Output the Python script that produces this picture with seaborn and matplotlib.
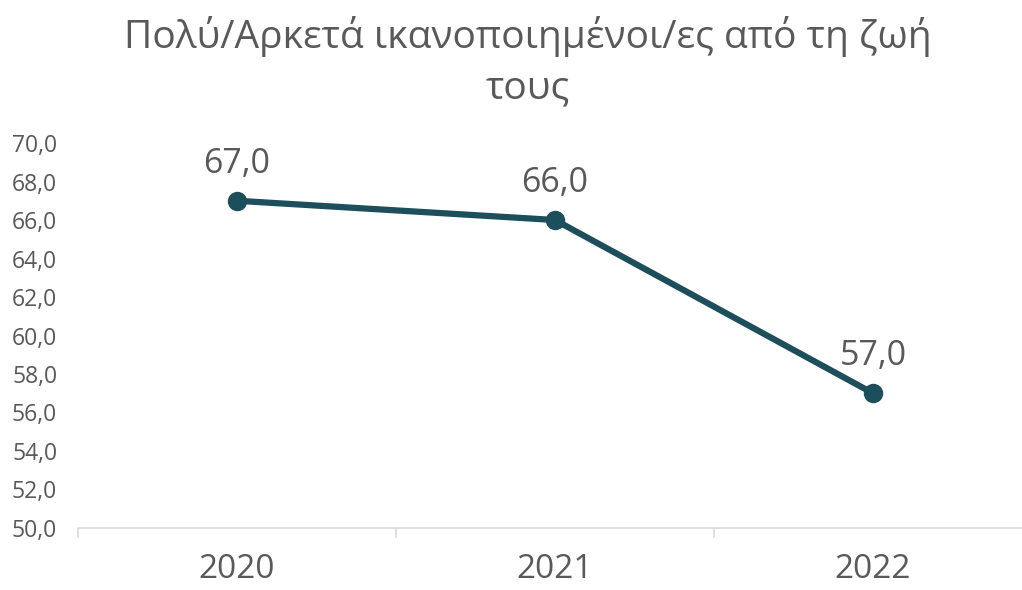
import numpy as np
import pandas as pd
import matplotlib.pyplot as plt
import seaborn as sns

years = ["2020", "2021", "2022"]
values = [67.0, 66.0, 57.0]
title_lines = ["Πολύ/Αρκετά ικανοποιημένοι/ες από τη ζωή", "τους"]

sns.set_style("white")
plt.rcParams["font.family"] = ["Open Sans", "DejaVu Sans"]

grey = "#595959"
line_col = "#1D4E5B"

df = pd.DataFrame({"pos": range(len(years)), "value": values})

fig = plt.figure(figsize=(10.22, 5.90), dpi=100)
ax = fig.add_axes([0.0763, 0.1051, 0.9335, 0.6525])

sns.lineplot(data=df, x="pos", y="value", ax=ax, color=line_col,
             linewidth=4.5, marker="o", markersize=14,
             markeredgecolor=line_col, markeredgewidth=0)

for x, v in zip(df["pos"], df["value"]):
    ax.annotate(f"{v:.1f}".replace(".", ","), (x, v), xytext=(0, 20),
                textcoords="offset points", ha="center", va="baseline",
                fontsize=24.5, color=grey)

ax.set_xlim(-0.5, 2.5)
ax.set_ylim(50, 70)
ax.set_yticks(np.arange(50, 71, 2))
ax.set_yticklabels([f"{t:.1f}".replace(".", ",") for t in np.arange(50, 71, 2)])
ax.set_xticks(range(len(years)))
ax.set_xticklabels(years)
ax.set_xticks([-0.5, 0.5, 1.5, 2.5], minor=True)
ax.tick_params(axis="x", which="major", length=0, labelsize=24,
               labelcolor=grey, pad=18)
ax.tick_params(axis="x", which="minor", bottom=True, length=7, width=1.2,
               color="#d9d9d9", direction="out")
ax.tick_params(axis="y", length=0, labelsize=16.5, labelcolor=grey, pad=15)

for s in ["top", "right", "left"]:
    ax.spines[s].set_visible(False)
ax.spines["bottom"].set_color("#d9d9d9")
ax.spines["bottom"].set_linewidth(1.2)
ax.set_xlabel("")
ax.set_ylabel("")

for line, ypos in zip(title_lines, [0.9186, 0.834]):
    fig.text(0.516, ypos, line, ha="center", va="baseline", fontsize=28,
             color=grey)

fig.savefig("out.png", dpi=100)
